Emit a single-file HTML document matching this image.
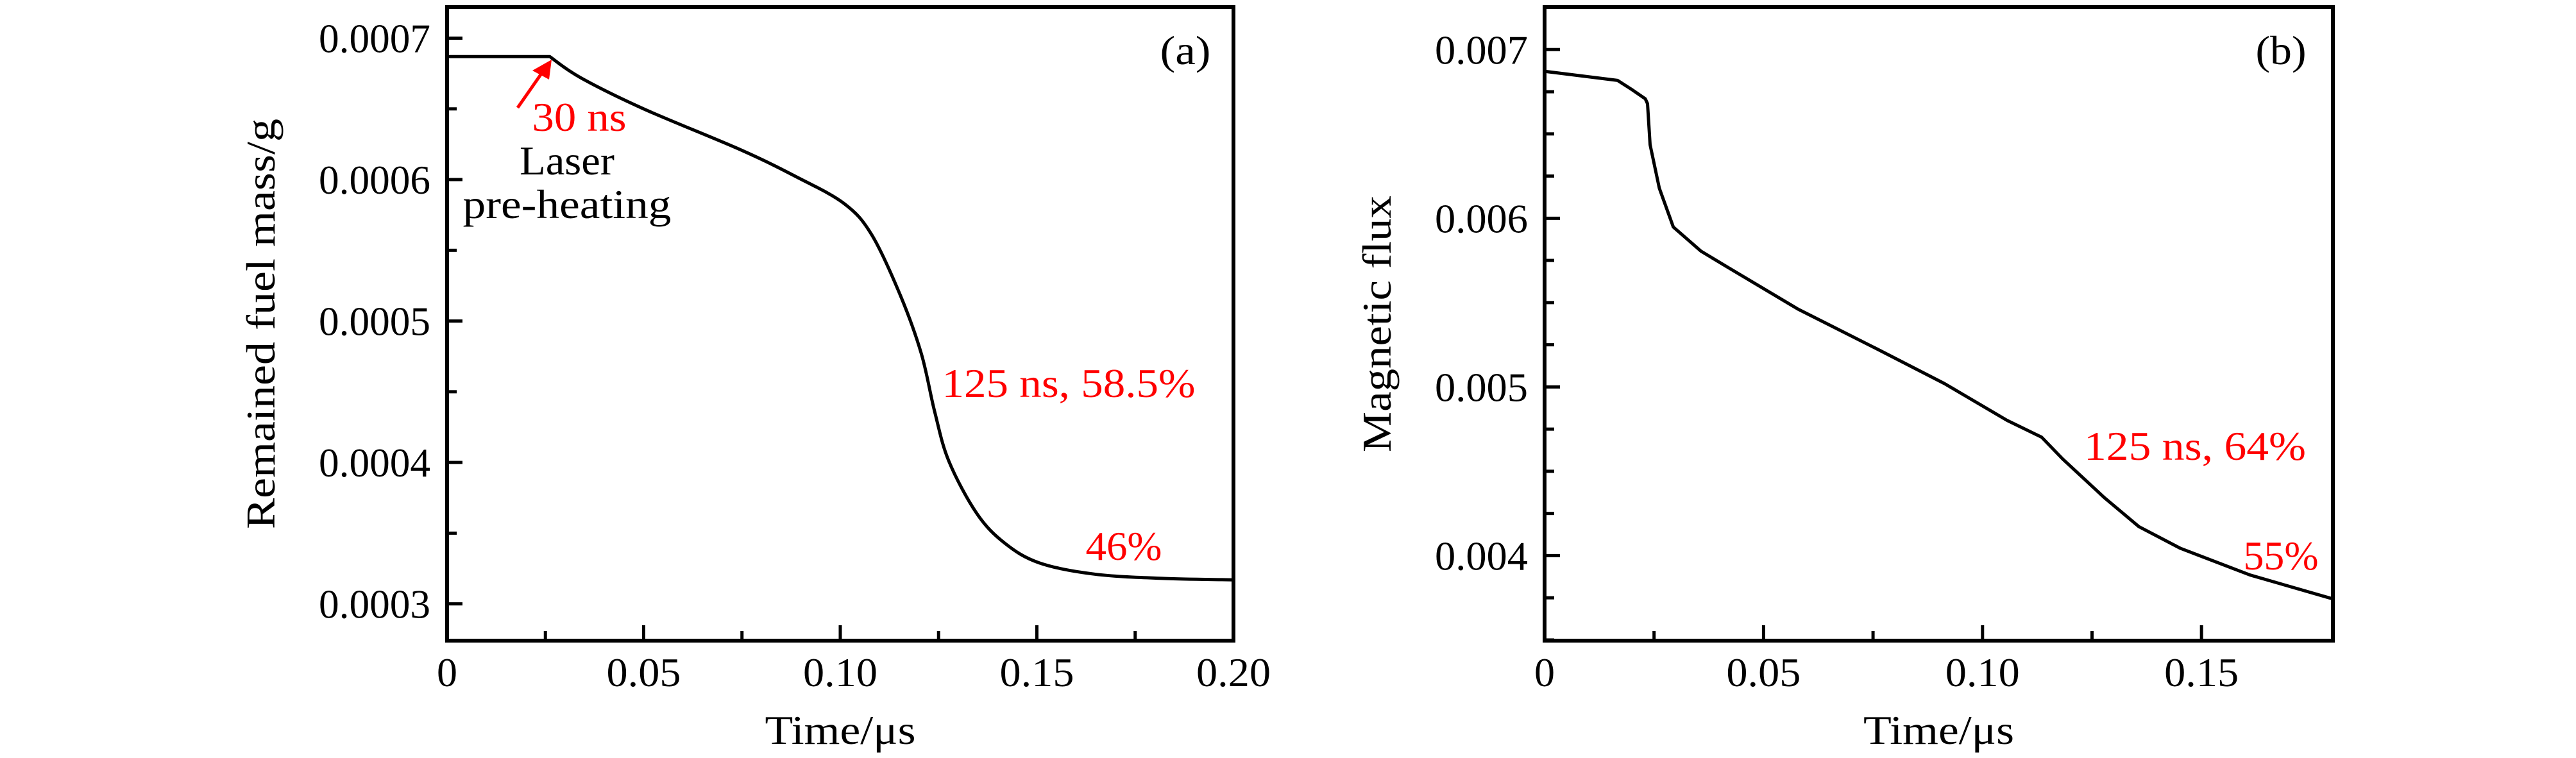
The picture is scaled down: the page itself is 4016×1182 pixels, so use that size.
<!DOCTYPE html>
<html><head><meta charset="utf-8"><style>
html,body{margin:0;padding:0;background:#fff;width:4016px;height:1182px;overflow:hidden}
svg text{font-family:"Liberation Serif",serif}
</style></head><body>
<svg id="chart" width="4016" height="1182" viewBox="0 0 4016 1182" xmlns="http://www.w3.org/2000/svg"></svg>
<script>
// Panel (a) data
const timeA = [0, 0.0261, 0.034, 0.05, 0.0747, 0.0888, 0.101, 0.108, 0.1153, 0.1206, 0.124, 0.1276, 0.1347, 0.1418, 0.1506, 0.1647, 0.1823, 0.2];
const massA = [0.000687, 0.000687, 0.000672, 0.000650, 0.000621, 0.000602, 0.000583, 0.000561, 0.000518, 0.000477, 0.000436, 0.000401, 0.000364, 0.000343, 0.000329, 0.000321, 0.000318, 0.000317];
const xTicksA = [0, 0.05, 0.10, 0.15, 0.20];
const xTickLabelsA = ["0", "0.05", "0.10", "0.15", "0.20"];
const yTicksA = [0.0003, 0.0004, 0.0005, 0.0006, 0.0007];
const yTickLabelsA = ["0.0003", "0.0004", "0.0005", "0.0006", "0.0007"];
// Panel (b) data
const timeB = [0, 0.01667, 0.0198, 0.023, 0.0235, 0.0241, 0.0262, 0.0294, 0.0357, 0.0421, 0.0579, 0.0754, 0.0913, 0.1056, 0.1135, 0.1183, 0.1278, 0.1357, 0.1452, 0.1611, 0.1802];
const fluxB = [0.006871, 0.006817, 0.006765, 0.006708, 0.006679, 0.006436, 0.006178, 0.005948, 0.005805, 0.005705, 0.005461, 0.005232, 0.005020, 0.004802, 0.004702, 0.004573, 0.004344, 0.004172, 0.004043, 0.003885, 0.003742];
const xTicksB = [0, 0.05, 0.10, 0.15];
const xTickLabelsB = ["0", "0.05", "0.10", "0.15"];
const yTicksB = [0.004, 0.005, 0.006, 0.007];
const yTickLabelsB = ["0.004", "0.005", "0.006", "0.007"];

const NS = "http://www.w3.org/2000/svg";
const svg = document.getElementById('chart');
const FS = 64;
function mk(tag, attrs, parent){
  const e = document.createElementNS(NS, tag);
  for (const k in attrs) e.setAttribute(k, attrs[k]);
  (parent||svg).appendChild(e);
  return e;
}
function txt(s, x, y, size, color, anchor, parent, len){
  const t = mk('text', {x:x, y:y, 'font-size':size, fill:color, 'text-anchor':anchor||'middle'}, parent);
  if (len) { t.setAttribute('textLength', len); t.setAttribute('lengthAdjust', 'spacingAndGlyphs'); }
  t.textContent = s;
  return t;
}
function numLen(s){ return s.length > 1 ? s.length*29 : 0; }

function smoothPath(pts, startIdx){
  let d = 'M'+pts[0][0].toFixed(1)+' '+pts[0][1].toFixed(1);
  for (let i=1;i<=startIdx;i++) d += 'L'+pts[i][0].toFixed(1)+' '+pts[i][1].toFixed(1);
  for (let i=startIdx;i<pts.length-1;i++){
    const p0 = pts[Math.max(startIdx,i-1)], p1 = pts[i], p2 = pts[i+1], p3 = pts[Math.min(pts.length-1,i+2)];
    const c1x = p1[0]+(p2[0]-p0[0])/6, c1y = p1[1]+(p2[1]-p0[1])/6;
    const c2x = p2[0]-(p3[0]-p1[0])/6, c2y = p2[1]-(p3[1]-p1[1])/6;
    d += 'C'+c1x.toFixed(1)+' '+c1y.toFixed(1)+' '+c2x.toFixed(1)+' '+c2y.toFixed(1)+' '+p2[0].toFixed(1)+' '+p2[1].toFixed(1);
  }
  return d;
}

function panel(cfg){
  const g = mk('g', {});
  
  
  const L=cfg.L,R=cfg.R,T=11,B=999;
  const sx = v => L + (v-cfg.x0)/(cfg.x1-cfg.x0)*(R-L);
  const sy = v => B - (v-cfg.y0)/(cfg.y1-cfg.y0)*(B-T);
  const xt = mk('g', {}, g);
  
  
  for (let i=0;i<cfg.xt.length;i++){
    const x = sx(cfg.xt[i]);
    mk('line',{x1:x,y1:B,x2:x,y2:B-24,stroke:'#000','stroke-width':5},xt);
    const l = txt(cfg.xl[i], x, 1070, FS, '#000', 'middle', xt, numLen(cfg.xl[i]));
    
    
    if (i<cfg.xt.length-1){
      const m = sx((cfg.xt[i]+cfg.xt[i+1])/2);
      mk('line',{x1:m,y1:B,x2:m,y2:B-15,stroke:'#000','stroke-width':5},xt);
    }
  }
  const yt = mk('g', {}, g);
  
  
  const step = cfg.yt[1]-cfg.yt[0];
  for (let v=cfg.yt[0]-step; v<=cfg.y1+1e-12; v+=step/cfg.minor){
    if (v<cfg.y0) continue;
    const y = sy(v);
    const isMajor = cfg.yt.some(t=>Math.abs(t-v)<step*1e-3);
    mk('line',{x1:L,y1:y,x2:L+(isMajor?24:15),y2:y,stroke:'#000','stroke-width':5},yt);
  }
  for (let i=0;i<cfg.yt.length;i++){
    const l = txt(cfg.yl[i], L-26, sy(cfg.yt[i])+22, FS, '#000', 'end', yt, numLen(cfg.yl[i]));
    
    
  }
  const pts = cfg.tx.map((t,i)=>[sx(t), sy(cfg.ty[i])]);
  let d;
  if (cfg.smooth) d = smoothPath(pts, 1);
  else d = pts.map((p,i)=>(i?'L':'M')+p[0].toFixed(1)+' '+p[1].toFixed(1)).join('');
  const p = mk('path',{d:d,fill:'none',stroke:'#000','stroke-width':5,'stroke-linejoin':'round'},g);
  
  
  const f = mk('rect',{x:L,y:T,width:R-L,height:B-T,fill:'none',stroke:'#000','stroke-width':6},g);
  
  
  const xtl = txt('Time/μs', (L+R)/2, 1160, FS, '#000', 'middle', g, 235);
  
  
  const ytl = txt(cfg.ytitle, 0, 0, FS, '#000', 'middle', g, cfg.ytlen);
  ytl.setAttribute('transform', 'translate('+cfg.ytx+',505) rotate(-90)');
  
  
  const pl = txt(cfg.label, cfg.labx, 100, FS, '#000', 'middle', g, 79);
  
  
  return g;
}

panel({name:'panel-a',L:697,R:1923,x0:0,x1:0.2,y0:0.000274,y1:0.000722,xt:xTicksA,xl:xTickLabelsA,yt:yTicksA,yl:yTickLabelsA,minor:2,tx:timeA,ty:massA,smooth:true,ytitle:'Remained fuel mass/g',ytx:428,ytlen:640,label:'(a)',labx:1848});
panel({name:'panel-b',L:2408,R:3637,x0:0,x1:0.18,y0:0.003496,y1:0.007252,xt:xTicksB,xl:xTickLabelsB,yt:yTicksB,yl:yTickLabelsB,minor:4,tx:timeB,ty:fluxB,smooth:false,ytitle:'Magnetic flux',ytx:2168,ytlen:400,label:'(b)',labx:3556});

const ann = [
 ['30 ns',903,204,'#f00','annotation-30ns',147],
 ['Laser',884,272,'#000','annotation-laser',148],
 ['pre-heating',884,340,'#000','annotation-preheating',325],
 ['125 ns, 58.5%',1666,619,'#f00','annotation-125ns-a',395],
 ['46%',1752,873,'#f00','annotation-46pct',119],
 ['125 ns, 64%',3422,717,'#f00','annotation-125ns-b',346],
 ['55%',3556,888,'#f00','annotation-55pct',117]
];
for (const a of ann){
  const t = txt(a[0], a[1], a[2], FS, a[3], 'middle', null, a[5]);
  
  
}
const ar = mk('g',{});


mk('line',{x1:807,y1:168,x2:846,y2:112,stroke:'#f00','stroke-width':5},ar);
mk('polygon',{points:'860,93 830,110 856,124',fill:'#f00'},ar);
</script>
</body></html>
